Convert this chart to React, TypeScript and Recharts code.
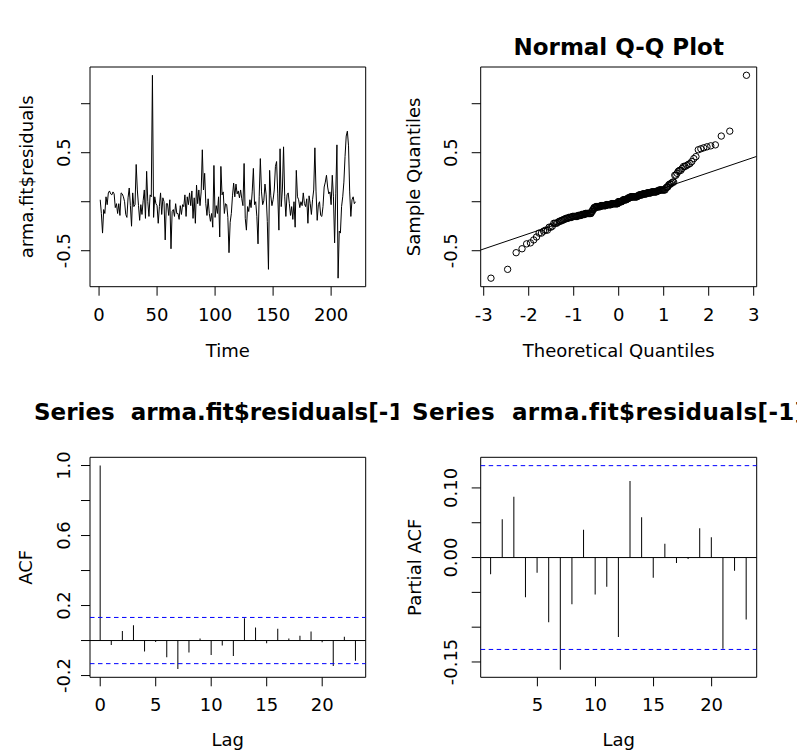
import React from 'react';
import {
  LineChart,
  Line,
  ScatterChart,
  Scatter,
  ComposedChart,
  Bar,
  XAxis,
  YAxis,
  ReferenceLine,
  ReferenceArea,
} from 'recharts';

const FONT = '"DejaVu Sans", Verdana, sans-serif';

// residuals of the ARMA fit (t = 1..221)
const residuals = [
  0.02, -0.12, -0.32, -0.08, -0.12, 0.05, -0.03, 0.09, 0.11, 0.08,
  0.07, 0.1, 0.08, -0.06, -0.02, -0.12, -0.02, -0.14, 0.09, 0.08,
  0.05, 0.0, -0.13, -0.16, 0.04, 0.14, -0.04, -0.25, 0.09, -0.05,
  -0.03, 0.38, 0.12, -0.04, -0.19, -0.03, -0.13, 0.01, 0.12, -0.17,
  0.31, 0.0, -0.15, 0.07, 0.05, 1.29, -0.16, 0.05, -0.02, -0.04,
  -0.22, -0.05, 0.09, -0.13, 0.04, 0.0, -0.39, -0.02, -0.02, -0.14,
  0.02, -0.48, -0.1, -0.08, -0.15, -0.02, -0.12, -0.12, -0.18, -0.04,
  -0.13, -0.03, -0.05, 0.07, -0.15, 0.05, -0.03, 0.09, -0.04, 0.11,
  -0.17, 0.04, -0.22, 0.17, -0.02, 0.12, -0.04, 0.1, 0.53, 0.12,
  0.29, -0.02, -0.14, 0.03, -0.12, -0.2, -0.12, -0.26, 0.37, -0.16,
  -0.04, -0.12, 0.05, -0.36, 0.36, 0.07, 0.1, -0.12, -0.02, -0.03,
  -0.16, -0.52, -0.21, -0.12, 0.06, 0.19, 0.05, 0.18, 0.08, 0.11,
  0.04, 0.12, 0.03, -0.04, 0.39, -0.17, -0.29, -0.05, -0.1, 0.02,
  -0.06, 0.1, 0.34, -0.03, 0.0, -0.15, -0.43, 0.05, 0.44, 0.1,
  -0.03, 0.01, 0.18, 0.07, -0.2, -0.69, 0.32, 0.06, -0.04, 0.02,
  0.12, 0.36, 0.41, 0.08, -0.29, 0.54, -0.05, 0.12, 0.56, 0.05,
  -0.15, 0.07, 0.09, -0.02, -0.14, -0.05, -0.18, 0.0, -0.26, 0.32,
  0.05, 0.02, -0.06, 0.0, -0.04, 0.09, -0.02, -0.05, 0.03, -0.22,
  0.06, -0.02, -0.13, 0.02, 0.12, 0.55, 0.1, -0.19, -0.03, 0.0,
  -0.14, -0.15, -0.05, 0.15, 0.2, 0.27, 0.15, 0.08, 0.1, -0.03,
  0.27, 0.05, -0.42, 0.08, 0.58, -0.78, -0.3, -0.32, -0.05, 0.05,
  0.2, 0.46, 0.67, 0.72, 0.57, 0.1, -0.15, 0.02, 0.05, -0.02,
  0.0,
];

const acfLags = [0, 1, 2, 3, 4, 5, 6, 7, 8, 9, 10, 11, 12, 13, 14, 15, 16, 17, 18, 19, 20, 21, 22, 23];
const acfValues = [
  1.0, -0.025, 0.055, 0.088, -0.063, -0.008, -0.095, -0.163, -0.069, 0.011, -0.082, -0.029,
  -0.088, 0.128, 0.074, -0.015, 0.067, 0.011, 0.027, 0.052, -0.01, -0.145, 0.021, -0.115,
];

const pacfLags = [1, 2, 3, 4, 5, 6, 7, 8, 9, 10, 11, 12, 13, 14, 15, 16, 17, 18, 19, 20, 21, 22, 23];
const pacfValues = [
  -0.024, 0.055, 0.0875, -0.057, -0.022, -0.093, -0.161, -0.067, 0.04, -0.053, -0.042, -0.114,
  0.11, 0.058, -0.029, 0.02, -0.008, -0.002, 0.042, 0.029, -0.131, -0.019, -0.089,
];

const ciBound = 0.132;

const timeTicks = [0, 50, 100, 150, 200];
const timeTickText = ['0', '50', '100', '150', '200'];
const residTicks = [-0.5, 0, 0.5, 1];
const residTickText = ['-0.5', '', '0.5', ''];
const theoTicks = [-3, -2, -1, 0, 1, 2, 3];
const theoTickText = ['-3', '-2', '-1', '0', '1', '2', '3'];
const lagTicks = [0, 5, 10, 15, 20];
const lagTickText = ['0', '5', '10', '15', '20'];
const pacfLagTicks = [5, 10, 15, 20];
const pacfLagTickText = ['5', '10', '15', '20'];
const acfTicks = [-0.2, 0, 0.2, 0.4, 0.6, 0.8, 1];
const acfTickText = ['-0.2', '', '0.2', '', '0.6', '', '1.0'];
const pacfTicks = [-0.15, -0.1, -0.05, 0, 0.05, 0.1];
const pacfTickText = ['-0.15', '', '', '0.00', '', '0.10'];

// inverse normal cdf (Acklam) for the theoretical quantiles
function qnorm(p: number) {
  const a = [-39.69683028665376, 220.9460984245205, -275.9285104469687, 138.357751867269, -30.66479806614716, 2.506628277459239];
  const b = [-54.47609879822406, 161.5858368580409, -155.6989798598866, 66.80131188771972, -13.28068155288572];
  const c = [-0.007784894002430293, -0.3223964580411365, -2.400758277161838, -2.549732539343734, 4.374664141464968, 2.938163982698783];
  const d = [0.007784695709041462, 0.3224671290700398, 2.445134137142996, 3.754408661907416];
  const tail = (q: number) =>
    (((((c[0] * q + c[1]) * q + c[2]) * q + c[3]) * q + c[4]) * q + c[5]) /
    ((((d[0] * q + d[1]) * q + d[2]) * q + d[3]) * q + 1);
  if (p < 0.02425) return tail(Math.sqrt(-2 * Math.log(p)));
  if (p > 1 - 0.02425) return -tail(Math.sqrt(-2 * Math.log(1 - p)));
  const q = p - 0.5;
  const r = q * q;
  return (
    ((((((a[0] * r + a[1]) * r + a[2]) * r + a[3]) * r + a[4]) * r + a[5]) * q) /
    (((((b[0] * r + b[1]) * r + b[2]) * r + b[3]) * r + b[4]) * r + 1)
  );
}

function quantile7(sorted: number[], p: number) {
  const h = (sorted.length - 1) * p;
  const lo = Math.floor(h);
  return sorted[lo] + (h - lo) * (sorted[Math.min(lo + 1, sorted.length - 1)] - sorted[lo]);
}

const tsData = residuals.map((v, i) => ({ t: i + 1, v }));
const sortedResid = [...residuals].sort((p, q) => p - q);
const qqData = sortedResid.map((y, i) => ({ x: qnorm((i + 0.5) / sortedResid.length), y }));
const q1 = quantile7(sortedResid, 0.25);
const q3 = quantile7(sortedResid, 0.75);
const qqSlope = (q3 - q1) / (qnorm(0.75) - qnorm(0.25));
const qqInt = q1 - qqSlope * qnorm(0.25);
const acfData = acfLags.map((lag, i) => ({ lag, acf: acfValues[i] }));
const pacfData = pacfLags.map((lag, i) => ({ lag, pacf: pacfValues[i] }));

const residDomain = [-0.867, 1.3745];
const timeDomain = [-7.8, 229.8];
const theoDomain = [-3.067, 3.067];
const lagDomain = [-0.92, 23.92];
const pacfLagDomain = [0.12, 23.88];
const acfDomain = [-0.21, 1.047];
const pacfDomain = [-0.172, 0.144];

const makeXTick = (ticks: number[], text: string[]) => (props: any) => {
  const { x, y, payload } = props;
  const label = text[ticks.indexOf(payload.value)];
  if (!label) return <g />;
  return (
    <text x={x} y={y + 25} textAnchor="middle" fontSize={18} fontFamily={FONT} fill="#000">
      {label}
    </text>
  );
};

const makeYTick = (ticks: number[], text: string[], gap: number) => (props: any) => {
  const { x, y, payload } = props;
  const label = text[ticks.indexOf(payload.value)];
  if (!label) return <g />;
  const bx = x - gap;
  return (
    <text
      x={bx}
      y={y}
      transform={`rotate(-90 ${bx} ${y})`}
      textAnchor="middle"
      fontSize={18}
      fontFamily={FONT}
      fill="#000"
    >
      {label}
    </text>
  );
};

const axisCommon = {
  type: 'number' as const,
  allowDataOverflow: true,
  axisLine: false,
  tickLine: { stroke: '#000' },
  tickSize: 9,
  tickMargin: 0,
  interval: 0 as const,
};

const Circle = (props: any) => (
  <circle cx={props.cx} cy={props.cy} r={3.2} fill="none" stroke="#000" strokeWidth={1} />
);

export default function App() {
  const topMargin = { top: 67, bottom: 11.3 };
  const botMargin = { top: 79.3, bottom: 8.7 };
  return (
    <div style={{ position: 'absolute', left: 0, top: 0, width: 797, height: 756, background: '#fff', overflow: 'hidden' }}>
      <div style={{ position: 'absolute', left: 0, top: 0 }}>
        <LineChart width={398} height={378} data={tsData} margin={{ ...topMargin, left: 10, right: 32.3 }}>
          <XAxis {...axisCommon} dataKey="t" domain={timeDomain} ticks={timeTicks} height={80} tick={makeXTick(timeTicks, timeTickText)} />
          <YAxis {...axisCommon} domain={residDomain} ticks={residTicks} width={80} tick={makeYTick(residTicks, residTickText, 11)} />
          <ReferenceArea x1={timeDomain[0]} x2={timeDomain[1]} y1={residDomain[0]} y2={residDomain[1]} fill="none" stroke="#000" strokeWidth={1} fillOpacity={0} />
          <Line dataKey="v" type="linear" dot={false} stroke="#000" strokeWidth={1} isAnimationActive={false} />
        </LineChart>
      </div>

      <div style={{ position: 'absolute', left: 398, top: 0 }}>
        <ScatterChart width={399} height={378} margin={{ ...topMargin, left: 2.7, right: 40.3 }}>
          <XAxis {...axisCommon} dataKey="x" domain={theoDomain} ticks={theoTicks} height={80} tick={makeXTick(theoTicks, theoTickText)} />
          <YAxis {...axisCommon} dataKey="y" domain={residDomain} ticks={residTicks} width={80} tick={makeYTick(residTicks, residTickText, 15)} />
          <ReferenceArea x1={theoDomain[0]} x2={theoDomain[1]} y1={residDomain[0]} y2={residDomain[1]} fill="none" stroke="#000" strokeWidth={1} fillOpacity={0} />
          <ReferenceLine
            segment={[
              { x: theoDomain[0], y: qqInt + qqSlope * theoDomain[0] },
              { x: theoDomain[1], y: qqInt + qqSlope * theoDomain[1] },
            ]}
            stroke="#000"
            strokeWidth={1}
            ifOverflow="hidden"
          />
          <Scatter data={qqData} shape={Circle} isAnimationActive={false} />
        </ScatterChart>
      </div>

      <div style={{ position: 'absolute', left: 0, top: 378 }}>
        <ComposedChart width={398} height={378} data={acfData} margin={{ ...botMargin, left: 20, right: 32.3 }}>
          <XAxis {...axisCommon} dataKey="lag" domain={lagDomain} ticks={lagTicks} height={70} tick={makeXTick(lagTicks, lagTickText)} />
          <YAxis {...axisCommon} domain={acfDomain} ticks={acfTicks} width={70} tick={makeYTick(acfTicks, acfTickText, 11)} />
          <ReferenceArea x1={lagDomain[0]} x2={lagDomain[1]} y1={acfDomain[0]} y2={acfDomain[1]} fill="none" stroke="#000" strokeWidth={1} fillOpacity={0} />
          <ReferenceLine y={0} stroke="#000" strokeWidth={1} />
          <ReferenceLine y={ciBound} stroke="#0000ff" strokeWidth={1} strokeDasharray="4.5 3.5" />
          <ReferenceLine y={-ciBound} stroke="#0000ff" strokeWidth={1} strokeDasharray="4.5 3.5" />
          <Bar dataKey="acf" barSize={1} fill="#000" isAnimationActive={false} />
        </ComposedChart>
      </div>

      <div style={{ position: 'absolute', left: 398, top: 378 }}>
        <ComposedChart width={399} height={378} data={pacfData} margin={{ ...botMargin, left: 12.7, right: 40.3 }}>
          <XAxis {...axisCommon} dataKey="lag" domain={pacfLagDomain} ticks={pacfLagTicks} height={70} tick={makeXTick(pacfLagTicks, pacfLagTickText)} />
          <YAxis {...axisCommon} domain={pacfDomain} ticks={pacfTicks} width={70} tick={makeYTick(pacfTicks, pacfTickText, 15)} />
          <ReferenceArea x1={pacfLagDomain[0]} x2={pacfLagDomain[1]} y1={pacfDomain[0]} y2={pacfDomain[1]} fill="none" stroke="#000" strokeWidth={1} fillOpacity={0} />
          <ReferenceLine y={0} stroke="#000" strokeWidth={1} />
          <ReferenceLine y={ciBound} stroke="#0000ff" strokeWidth={1} strokeDasharray="4.5 3.5" />
          <ReferenceLine y={-ciBound} stroke="#0000ff" strokeWidth={1} strokeDasharray="4.5 3.5" />
          <Bar dataKey="pacf" barSize={1} fill="#000" isAnimationActive={false} />
        </ComposedChart>
      </div>

      <svg width={797} height={756} style={{ position: 'absolute', left: 0, top: 0, pointerEvents: 'none' }} fontFamily={FONT}>
        <text x={618.7} y={55} textAnchor="middle" fontSize={23} fontWeight="bold">Normal Q-Q Plot</text>
        {/* both acf titles are wider than their figure region and get clipped, as in R */}
        <svg x={0} y={0} width={398.5} height={756}>
          <text x={34} y={420} fontSize={23} fontWeight="bold" style={{ whiteSpace: 'pre' }}>
            {'Series  arma.fit$residuals[-1]'}
          </text>
        </svg>
        <svg x={398.5} y={0} width={398.5} height={756}>
          <text x={13.5} y={420} fontSize={23} fontWeight="bold" letterSpacing={0.4} style={{ whiteSpace: 'pre' }}>
            {'Series  arma.fit$residuals[-1]'}
          </text>
        </svg>

        <text x={227.8} y={356.7} textAnchor="middle" fontSize={18}>Time</text>
        <text x={618.7} y={356.7} textAnchor="middle" fontSize={18}>Theoretical Quantiles</text>
        <text x={227.8} y={746} textAnchor="middle" fontSize={18}>Lag</text>
        <text x={618.7} y={746} textAnchor="middle" fontSize={18}>Lag</text>

        <text x={33} y={176.9} transform="rotate(-90 33 176.9)" textAnchor="middle" fontSize={18}>arma.fit$residuals</text>
        <text x={420} y={176.9} transform="rotate(-90 420 176.9)" textAnchor="middle" fontSize={18}>Sample Quantiles</text>
        <text x={32.5} y={567.3} transform="rotate(-90 32.5 567.3)" textAnchor="middle" fontSize={18}>ACF</text>
        <text x={421} y={567.3} transform="rotate(-90 421 567.3)" textAnchor="middle" fontSize={18}>Partial ACF</text>
      </svg>
    </div>
  );
}
